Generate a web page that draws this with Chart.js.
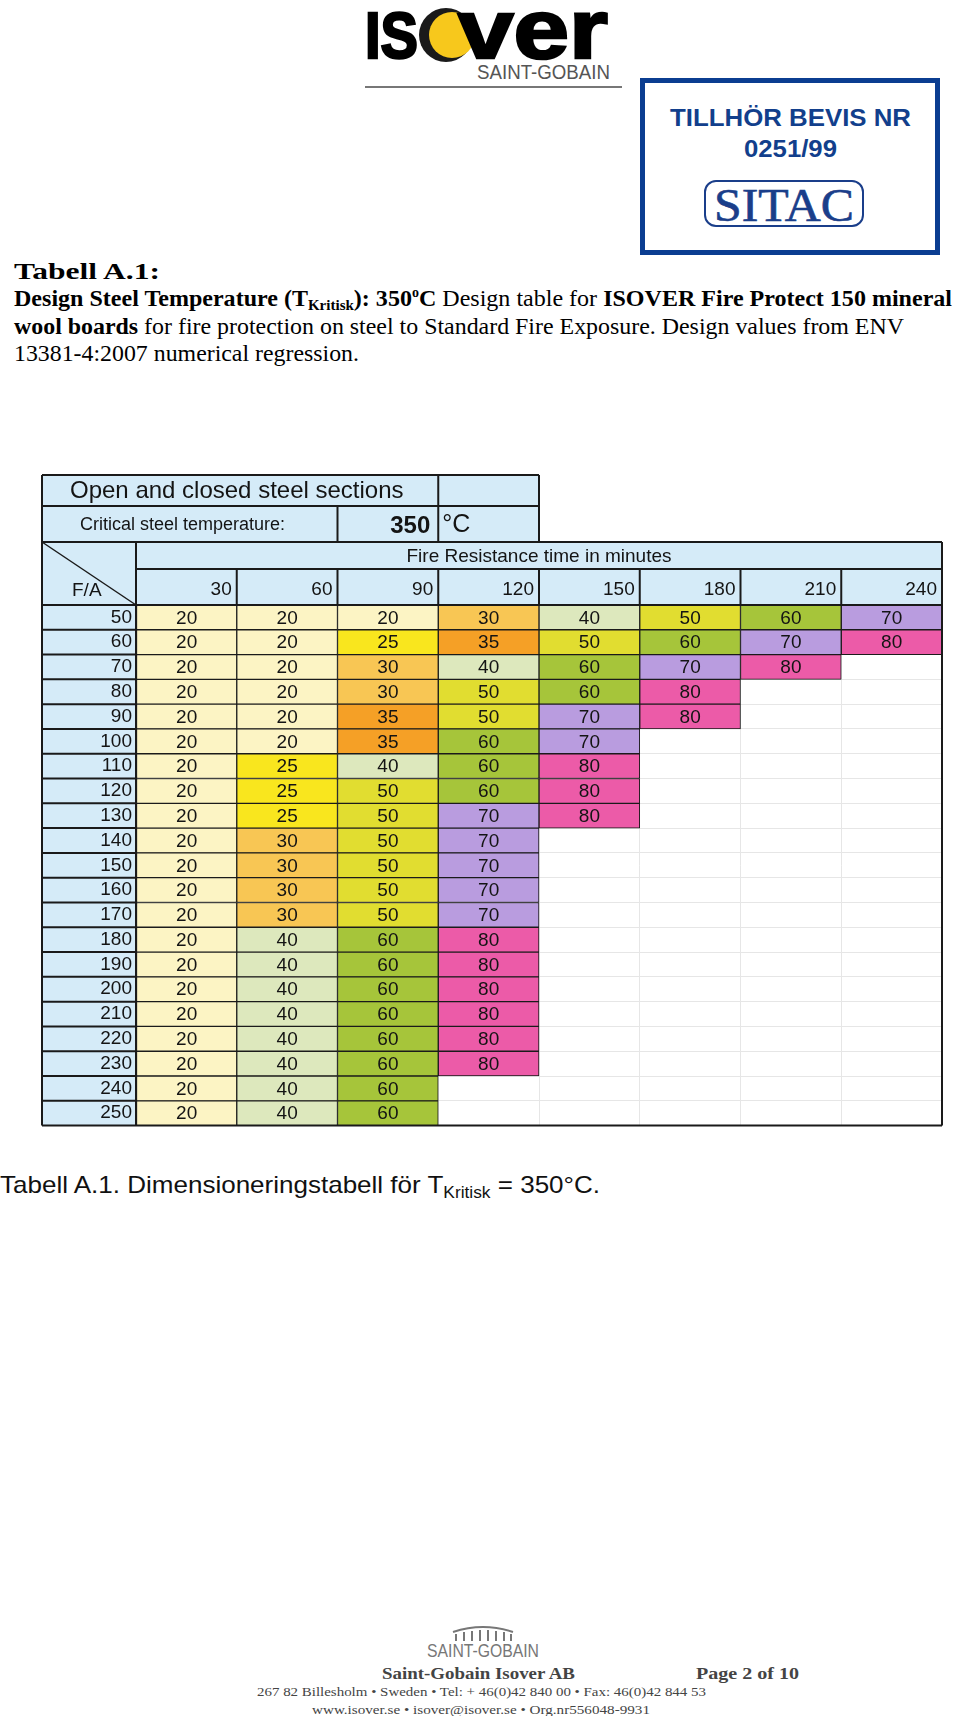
<!DOCTYPE html>
<html>
<head>
<meta charset="utf-8">
<script src="https://cdn.jsdelivr.net/npm/chart.js@4.4.1/dist/chart.umd.min.js"></script>
<style>
  body { margin: 0; width: 960px; height: 1716px; background: #fff; position: relative; overflow: hidden; }
  #page { position: absolute; left: 0; top: 0; }
  #table { position: absolute; left: 40px; top: 473px; }
</style>
</head>
<body>
<svg id="page" width="960" height="1716" xmlns="http://www.w3.org/2000/svg">
  <!-- ISOVER logo -->
  <text x="365" y="58" font-family="Liberation Sans" font-weight="bold" font-size="64" stroke="#000" stroke-width="2.5" textLength="53" lengthAdjust="spacingAndGlyphs">IS</text>
  <circle cx="446" cy="35" r="27" fill="#1a1a1a"/>
  <circle cx="452" cy="35" r="23" fill="#f7c81c"/>
  <text x="458" y="58" font-family="Liberation Sans" font-weight="bold" font-size="84" stroke="#000" stroke-width="2.5" textLength="150" lengthAdjust="spacingAndGlyphs">ver</text>
  <text x="477" y="79" font-family="Liberation Sans" font-size="20" fill="#555" textLength="133" lengthAdjust="spacingAndGlyphs">SAINT-GOBAIN</text>
  <line x1="365" y1="87" x2="622" y2="87" stroke="#777" stroke-width="2"/>

  <!-- SITAC stamp -->
  <rect x="642.5" y="80.5" width="295" height="172" fill="none" stroke="#0b3d91" stroke-width="5"/>
  <text x="670" y="126" font-family="Liberation Sans" font-weight="bold" font-size="24" fill="#123f8c" textLength="241" lengthAdjust="spacingAndGlyphs">TILLHÖR BEVIS NR</text>
  <text x="744" y="157" font-family="Liberation Sans" font-weight="bold" font-size="24" fill="#123f8c" textLength="93" lengthAdjust="spacingAndGlyphs">0251/99</text>
  <rect x="705" y="181" width="158" height="45" rx="11" fill="none" stroke="#1a3e8a" stroke-width="2"/>
  <text x="714" y="221" font-family="Liberation Serif" font-size="46" fill="#1a3e8a" stroke="#1a3e8a" stroke-width="0.6" textLength="140" lengthAdjust="spacingAndGlyphs">SITAC</text>

  <!-- heading -->
  <text x="14" y="279" font-family="Liberation Serif" font-weight="bold" font-size="24" textLength="146" lengthAdjust="spacingAndGlyphs">Tabell A.1:</text>
  <text x="14" y="306" font-family="Liberation Serif" font-size="24" textLength="938" lengthAdjust="spacingAndGlyphs"><tspan font-weight="bold">Design Steel Temperature (T</tspan><tspan font-weight="bold" font-size="15" dy="4">Kritisk</tspan><tspan font-weight="bold" dy="-4">): 350</tspan><tspan font-weight="bold" font-size="14" dy="-9">o</tspan><tspan font-weight="bold" dy="9">C</tspan><tspan> Design table for </tspan><tspan font-weight="bold">ISOVER Fire Protect 150 mineral</tspan></text>
  <text x="14" y="334" font-family="Liberation Serif" font-size="24" textLength="890" lengthAdjust="spacingAndGlyphs"><tspan font-weight="bold">wool boards</tspan><tspan> for fire protection on steel to Standard Fire Exposure. Design values from ENV</tspan></text>
  <text x="14" y="361" font-family="Liberation Serif" font-size="24" textLength="345" lengthAdjust="spacingAndGlyphs">13381-4:2007 numerical regression.</text>

  <!-- caption -->
  <text x="0" y="1193" font-family="Liberation Sans" font-size="24" fill="#111" textLength="600" lengthAdjust="spacingAndGlyphs">Tabell A.1. Dimensioneringstabell för T<tspan font-size="16" dy="5">Kritisk</tspan><tspan dy="-5"> = 350°C.</tspan></text>

  <!-- footer -->
  <g fill="none" stroke="#777" stroke-width="2">
    <path d="M453,1632 Q483,1622 513,1632"/>
    <path d="M456,1641 v-7 M464,1641 v-9 M472,1641 v-10 M480,1641 v-11 M488,1641 v-11 M496,1641 v-10 M504,1641 v-9 M511,1641 v-7"/>
  </g>
  <text x="427" y="1657" font-family="Liberation Sans" font-size="18" fill="#777" textLength="112" lengthAdjust="spacingAndGlyphs">SAINT-GOBAIN</text>
  <text x="382" y="1679" font-family="Liberation Serif" font-weight="bold" font-size="17" fill="#444" textLength="193" lengthAdjust="spacingAndGlyphs">Saint-Gobain Isover AB</text>
  <text x="696" y="1679" font-family="Liberation Serif" font-weight="bold" font-size="17" fill="#444" textLength="103" lengthAdjust="spacingAndGlyphs">Page 2 of 10</text>
  <text x="257" y="1696" font-family="Liberation Serif" font-size="13" fill="#444" textLength="449" lengthAdjust="spacingAndGlyphs">267 82 Billesholm • Sweden • Tel: + 46(0)42 840 00 • Fax: 46(0)42 844 53</text>
  <text x="312" y="1714" font-family="Liberation Serif" font-size="13" fill="#444" textLength="338" lengthAdjust="spacingAndGlyphs">www.isover.se • isover@isover.se • Org.nr556048-9931</text>
</svg>

<canvas id="table" width="904" height="668"></canvas>

<script>
// fire resistance time (minutes) = columns, section factor F/A = rows
const fireTimes = [30, 60, 90, 120, 150, 180, 210, 240];
const sectionFactors = [50, 60, 70, 80, 90, 100, 110, 120, 130, 140, 150,
  160, 170, 180, 190, 200, 210, 220, 230, 240, 250];

// required board thickness (mm) per fire time, null = no cell
const t30 = [20, 20, 20, 20, 20, 20, 20, 20, 20, 20, 20, 20, 20, 20, 20, 20, 20, 20, 20, 20, 20];
const t60 = [20, 20, 20, 20, 20, 20, 25, 25, 25, 30, 30, 30, 30, 40, 40, 40, 40, 40, 40, 40, 40];
const t90 = [20, 25, 30, 30, 35, 35, 40, 50, 50, 50, 50, 50, 50, 60, 60, 60, 60, 60, 60, 60, 60];
const t120 = [30, 35, 40, 50, 50, 60, 60, 60, 70, 70, 70, 70, 70, 80, 80, 80, 80, 80, 80, null, null];
const t150 = [40, 50, 60, 60, 70, 70, 80, 80, 80, null, null, null, null, null, null, null, null, null, null, null, null];
const t180 = [50, 60, 70, 80, 80, null, null, null, null, null, null, null, null, null, null, null, null, null, null, null, null];
const t210 = [60, 70, 80, null, null, null, null, null, null, null, null, null, null, null, null, null, null, null, null, null, null];
const t240 = [70, 80, null, null, null, null, null, null, null, null, null, null, null, null, null, null, null, null, null, null, null];

const columns = [t30, t60, t90, t120, t150, t180, t210, t240];

const cellColors = {
  20: "#fcf4c4",
  25: "#f9e61e",
  30: "#f8c654",
  35: "#f5a026",
  40: "#dde8bd",
  50: "#e1dd30",
  60: "#a6c53a",
  70: "#b99cdf",
  80: "#ec5ba8"
};
const headBlue = "#d5ebf8";
const ink = "#141414";
const hdr = [2, 33, 69, 96]; // header row edges in canvas px

function line(ctx, x1, y1, x2, y2) {
  ctx.beginPath();
  ctx.moveTo(x1, y1);
  ctx.lineTo(x2, y2);
  ctx.stroke();
}

const tableFrame = {
  id: "tableFrame",
  beforeDraw(chart) {
    const { ctx, chartArea: a, scales: { x, y } } = chart;
    const L = y.left;
    const x4 = x.getPixelForValue(4);
    ctx.save();
    ctx.fillStyle = headBlue;
    ctx.fillRect(L, hdr[0], x4 - L, hdr[2] - hdr[0]);
    ctx.fillRect(L, hdr[2], a.right - L, a.top - hdr[2]);
    ctx.fillRect(L, a.top, a.left - L, a.bottom - a.top);
    ctx.restore();
  },
  afterDatasetsDraw(chart) {
    const ctx = chart.ctx;
    ctx.save();
    ctx.font = "19px 'Liberation Sans'";
    ctx.fillStyle = ink;
    ctx.textAlign = "center";
    ctx.textBaseline = "middle";
    columns.forEach((vals, d) => {
      chart.getDatasetMeta(d).data.forEach((bar, i) => {
        if (vals[i] == null) return;
        const p = bar.getCenterPoint();
        ctx.fillText(vals[i], p.x, p.y + 1);
      });
    });
    ctx.restore();
  },
  afterDraw(chart) {
    const { ctx, chartArea: a, scales: { x, y } } = chart;
    const L = y.left, R = a.right, T = a.top, B = a.bottom;
    const xs = [];
    for (let c = 0; c <= fireTimes.length; c++) xs.push(x.getPixelForValue(c));
    const [r0, r1, r2, r3] = hdr;
    const rowH = (B - T) / sectionFactors.length;

    ctx.save();
    ctx.strokeStyle = "#1a1a1a";
    ctx.lineWidth = 2;
    line(ctx, L, r0, xs[4], r0);
    line(ctx, L, r1, xs[4], r1);
    line(ctx, L, r2, R, r2);
    line(ctx, a.left, r3, R, r3);
    line(ctx, L, T, R, T);
    line(ctx, L, B, R, B);
    line(ctx, L, r0, L, B);
    line(ctx, xs[3], r0, xs[3], r2);
    line(ctx, xs[4], r0, xs[4], r2);
    line(ctx, xs[2], r1, xs[2], r2);
    line(ctx, a.left, r2, a.left, B);
    line(ctx, R, r2, R, B);
    for (let c = 1; c < fireTimes.length; c++) line(ctx, xs[c], r3, xs[c], T);
    for (let i = 1; i < sectionFactors.length; i++) line(ctx, L, T + i * rowH, a.left, T + i * rowH);
    ctx.lineWidth = 1.5;
    line(ctx, L, r2, a.left, T);

    ctx.fillStyle = ink;
    ctx.textBaseline = "middle";
    ctx.textAlign = "left";
    ctx.font = "24px 'Liberation Sans'";
    ctx.fillText("Open and closed steel sections", L + 28, (r0 + r1) / 2 + 1);
    ctx.font = "18px 'Liberation Sans'";
    ctx.fillText("Critical steel temperature:", L + 38, (r1 + r2) / 2 + 1);
    ctx.font = "25px 'Liberation Sans'";
    ctx.fillText("°C", xs[3] + 4, (r1 + r2) / 2 + 1);
    ctx.textAlign = "right";
    ctx.font = "bold 24px 'Liberation Sans'";
    ctx.fillText("350", xs[3] - 8, (r1 + r2) / 2 + 2);
    ctx.font = "19px 'Liberation Sans'";
    ctx.textAlign = "center";
    ctx.fillText("Fire Resistance time in minutes", (a.left + R) / 2, (r2 + r3) / 2 + 1);
    ctx.textAlign = "right";
    fireTimes.forEach((t, c) => ctx.fillText(t, xs[c + 1] - 5, (r3 + T) / 2 + 3));
    ctx.textAlign = "left";
    ctx.fillText("F/A", L + 30, (r3 + T) / 2 + 4);
    ctx.restore();
  }
};

new Chart(document.getElementById("table"), {
  type: "bar",
  data: {
    labels: sectionFactors.map(String),
    datasets: columns.map((vals, c) => ({
      label: String(fireTimes[c]),
      data: vals.map(v => (v == null ? null : [c, c + 1])),
      backgroundColor: vals.map(v => (v == null ? "transparent" : cellColors[v])),
      borderColor: "#1b1b1b",
      borderWidth: 1,
      borderSkipped: false,
      grouped: false,
      barPercentage: 1,
      categoryPercentage: 1
    }))
  },
  options: {
    indexAxis: "y",
    responsive: false,
    devicePixelRatio: 1,
    animation: false,
    layout: { padding: { top: 132, left: 2, right: 2, bottom: 2 } },
    plugins: {
      legend: { display: false },
      tooltip: { enabled: false }
    },
    scales: {
      x: {
        type: "linear",
        position: "top",
        min: 0,
        max: fireTimes.length,
        ticks: { display: false, stepSize: 1 },
        grid: { color: "#e6e6e6", drawTicks: false },
        border: { display: false },
        afterFit(s) { s.height = 0; }
      },
      y: {
        type: "category",
        grid: { color: "#e6e6e6", drawTicks: false, offset: true },
        border: { display: false },
        ticks: { font: { size: 19, family: "Liberation Sans" }, color: ink, padding: 4, autoSkip: false },
        afterFit(s) { s.width = 94; }
      }
    }
  },
  plugins: [tableFrame]
});
</script>
</body>
</html>
